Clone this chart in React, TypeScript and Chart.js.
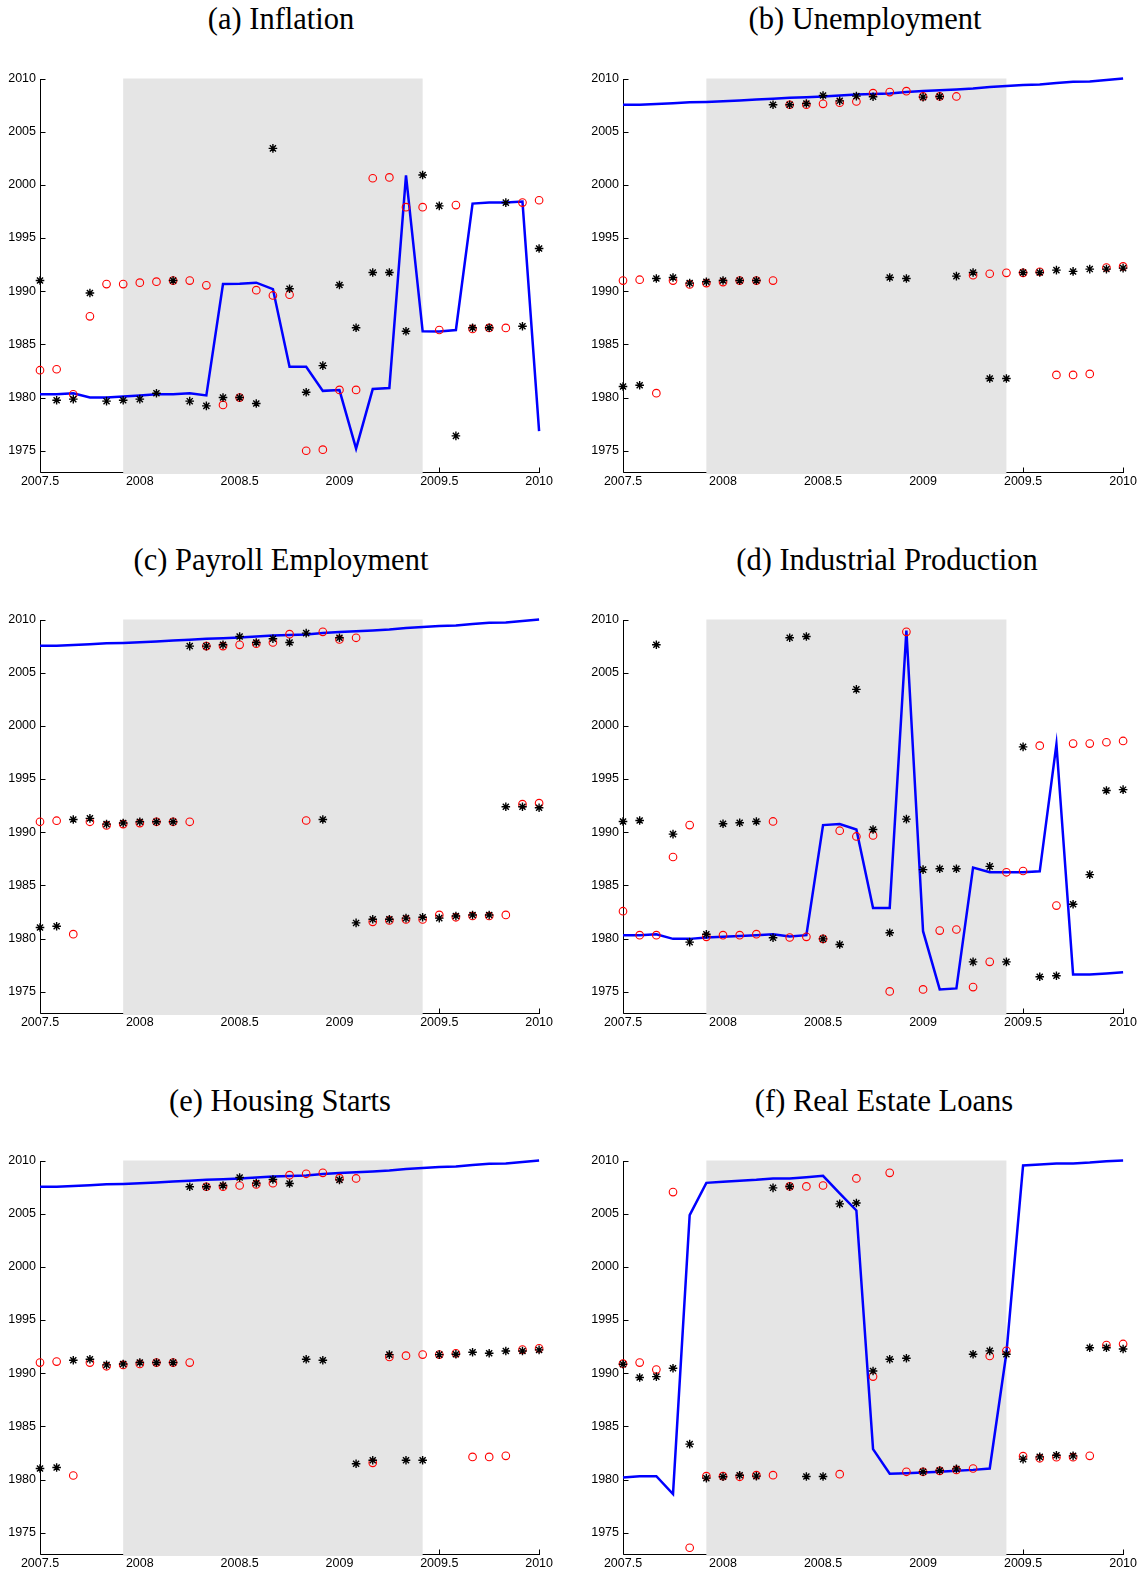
import React, { useEffect, useRef } from 'react';
import { Chart, registerables } from 'chart.js';

Chart.register(...registerables);

// ---------- data ----------
const months = [
  2007.5, 2007.5833, 2007.6667, 2007.75, 2007.8333, 2007.9167,
  2008.0, 2008.0833, 2008.1667, 2008.25, 2008.3333, 2008.4167,
  2008.5, 2008.5833, 2008.6667, 2008.75, 2008.8333, 2008.9167,
  2009.0, 2009.0833, 2009.1667, 2009.25, 2009.3333, 2009.4167,
  2009.5, 2009.5833, 2009.6667, 2009.75, 2009.8333, 2009.9167, 2010.0,
];
const xTicks = [2007.5, 2008, 2008.5, 2009, 2009.5, 2010];
const yTicks = [1975, 1980, 1985, 1990, 1995, 2000, 2005, 2010];
const recession = [2007.9167, 2009.4167];

const dateLine = [2007.53, 2007.53, 2007.6, 2007.68, 2007.76, 2007.8, 2007.86, 2007.94, 2008.02, 2008.1, 2008.18, 2008.24, 2008.3, 2008.4, 2008.5, 2008.55, 2008.6, 2008.72, 2008.82, 2008.9, 2008.97, 2009.06, 2009.2, 2009.3, 2009.38, 2009.44, 2009.58, 2009.69, 2009.72, 2009.86, 2010.0];

const infLine = [1980.32, 1980.32, 1980.4, 1980.0, 1980.0, 1980.1, 1980.2, 1980.3, 1980.3, 1980.4, 1980.2, 1990.67, 1990.7, 1990.8, 1990.2, 1982.9, 1982.9, 1980.63, 1980.7, 1975.19, 1980.8, 1980.9, 2000.9, 1986.23, 1986.2, 1986.35, 1998.24, 1998.33, 1998.33, 1998.43, 1976.84];
const infCircle = [1982.57, 1982.66, 1980.3, 1987.64, 1990.67, 1990.67, 1990.8, 1990.9, 1991.0, 1991.0, 1990.55, 1979.31, 1980.0, 1990.1, 1989.6, 1989.67, 1975.0, 1975.1, 1980.72, 1980.72, 2000.62, 2000.7, 1997.9, 1997.9, 1986.35, 1998.1, 1986.45, 1986.55, 1986.55, 1998.33, 1998.55];
const infStar = [1991.0, 1979.75, 1979.85, 1989.83, 1979.66, 1979.75, 1979.85, 1980.4, 1991.0, 1979.66, 1979.22, 1980.0, 1980.0, 1979.44, 2003.43, 1990.23, 1980.5, 1983.0, 1990.58, 1986.57, 1991.76, 1991.76, 1986.23, 2000.93, 1998.02, 1976.4, 1986.57, 1986.57, 1998.33, 1986.7, 1994.02];

const unCircle = [1991.0, 1991.08, 1980.41, 1991.0, 1990.64, 1990.76, 1990.86, 1991.0, 1991.0, 1991.0, 2007.53, 2007.53, 2007.62, 2007.72, 2007.84, 2008.62, 2008.72, 2008.81, 2008.31, 2008.31, 2008.31, 1991.51, 1991.64, 1991.73, 1991.73, 1991.83, 1982.13, 1982.13, 1982.22, 1992.23, 1992.33];
const unStar = [1981.04, 1981.16, 1991.2, 1991.29, 1990.76, 1990.89, 1991.0, 1991.0, 1991.0, 2007.53, 2007.53, 2007.65, 2008.4, 2007.9, 2008.34, 2008.28, 1991.29, 1991.2, 2008.25, 2008.31, 1991.42, 1991.76, 1981.79, 1981.79, 1991.76, 1991.76, 1991.98, 1991.86, 1992.08, 1992.08, 1992.17];

const payCircle = [1990.98, 1991.08, 1980.41, 1990.98, 1990.64, 1990.76, 1990.86, 1990.98, 1990.98, 1990.98, 2007.5, 2007.5, 2007.62, 2007.72, 2007.84, 2008.62, 1991.1, 2008.84, 2008.12, 2008.28, 1981.57, 1981.7, 1981.79, 1981.79, 1982.22, 1982.0, 1982.12, 1982.12, 1982.22, 1992.64, 1992.73];
const payStar = [1981.04, 1981.16, 1991.2, 1991.3, 1990.76, 1990.86, 1990.98, 1990.98, 1990.98, 2007.5, 2007.5, 2007.62, 2008.4, 2007.84, 2008.19, 2007.84, 2008.72, 1991.2, 2008.28, 1981.47, 1981.82, 1981.82, 1981.92, 1982.0, 1981.92, 1982.12, 1982.22, 1982.22, 1992.39, 1992.39, 1992.3];

const indLine = [1980.32, 1980.32, 1980.41, 1979.97, 1979.97, 1980.1, 1980.16, 1980.25, 1980.32, 1980.41, 1980.2, 1980.32, 1990.67, 1990.76, 1990.26, 1982.88, 1982.88, 2008.97, 1980.69, 1975.22, 1975.31, 1986.67, 1986.23, 1986.23, 1986.23, 1986.32, 1998.27, 1976.62, 1976.62, 1976.72, 1976.84];
const indCircle = [1982.57, 1980.32, 1980.32, 1987.67, 1990.67, 1980.16, 1980.32, 1980.32, 1980.41, 1991.01, 1980.1, 1980.16, 1979.97, 1990.14, 1989.6, 1989.7, 1975.03, 2008.84, 1975.22, 1980.75, 1980.85, 1975.44, 1977.81, 1986.23, 1986.35, 1998.14, 1983.1, 1998.33, 1998.33, 1998.46, 1998.58];
const indStar = [1991.01, 1991.1, 2007.62, 1989.82, 1979.66, 1980.41, 1990.8, 1990.89, 1991.01, 1980.07, 2008.28, 2008.4, 1979.97, 1979.44, 2003.43, 1990.26, 1980.54, 1991.23, 1986.48, 1986.57, 1986.57, 1977.81, 1986.79, 1977.81, 1998.02, 1976.41, 1976.5, 1983.22, 1986.01, 1993.92, 1994.0];

const houCircle = [1991.0, 1991.09, 1980.38, 1991.0, 1990.65, 1990.78, 1990.87, 1991.0, 1991.0, 1991.0, 2007.53, 2007.53, 2007.65, 2007.75, 2007.87, 2008.62, 2008.75, 2008.84, 2008.34, 2008.31, 1981.57, 1991.53, 1991.65, 1991.75, 1991.75, 1991.87, 1982.13, 1982.13, 1982.23, 1992.22, 1992.34];
const houStar = [1981.04, 1981.13, 1991.22, 1991.31, 1990.78, 1990.87, 1991.0, 1991.0, 1991.0, 2007.53, 2007.53, 2007.65, 2008.4, 2007.87, 2008.22, 2007.84, 1991.31, 1991.22, 2008.18, 1981.48, 1981.82, 1991.75, 1981.82, 1981.82, 1991.75, 1991.78, 1991.97, 1991.87, 1992.09, 1992.09, 1992.19];

const reLine = [1980.2, 1980.32, 1980.32, 1978.63, 2004.87, 2007.9, 2008.0, 2008.09, 2008.18, 2008.31, 2008.31, 2008.43, 2008.56, 2006.9, 2005.3, 1982.86, 1980.54, 1980.6, 1980.67, 1980.73, 1980.82, 1980.91, 1981.04, 1991.9, 2009.53, 2009.62, 2009.72, 2009.72, 2009.81, 2009.94, 2010.0];
const reCircle = [1990.9, 1991.0, 1990.34, 2007.03, 1973.59, 1980.32, 1980.32, 1980.26, 1980.41, 1980.41, 2007.56, 2007.56, 2007.65, 1980.51, 2008.31, 1989.68, 2008.84, 1980.73, 1980.73, 1980.82, 1980.91, 1981.04, 1991.62, 1992.1, 1982.2, 1982.0, 1982.1, 1982.1, 1982.23, 1992.65, 1992.75];
const reStar = [1990.84, 1989.59, 1989.68, 1990.46, 1983.33, 1980.13, 1980.26, 1980.41, 1980.32, 2007.43, 2007.56, 1980.29, 1980.29, 2005.92, 2006.0, 1990.21, 1991.31, 1991.4, 1980.73, 1980.85, 1981.0, 1991.78, 1992.1, 1991.78, 1981.92, 1982.13, 1982.29, 1982.23, 1992.4, 1992.4, 1992.28];

const titles = [
  '(a) Inflation', '(b) Unemployment', '(c) Payroll Employment',
  '(d) Industrial Production', '(e) Housing Starts', '(f) Real Estate Loans',
];

// ---------- layout ----------
const PAD_L = 40;
const PAD_T = 10;
const PAD_R = 15;
const PAD_B = 25;
const colPlotLeft = [40, 623];
const colPlotWidth = [500, 501];
const rowPlotTop = [77, 618, 1159];
const plotHeight = 395;
const titleCenters = [281, 865, 281, 887, 280, 884];
const titleTops = [2, 543, 1084];

const TICK_FONT = { family: "'Liberation Sans', Arial, Helvetica, sans-serif", size: 12.5 };

const framePlugin = {
  id: 'frame',
  beforeDatasetsDraw(chart: any) {
    const { ctx, chartArea: a, scales } = chart;
    const x = scales.x;
    const y = scales.y;
    ctx.save();
    ctx.strokeStyle = '#000';
    ctx.lineWidth = 1;
    ctx.beginPath();
    const lx = Math.round(a.left) + 0.5;
    const by = Math.round(a.bottom) + 0.5;
    ctx.moveTo(lx, Math.round(a.top));
    ctx.lineTo(lx, by);
    ctx.lineTo(Math.round(a.right) + 1, by);
    for (const v of yTicks) {
      const py = Math.round(y.getPixelForValue(v)) + 0.5;
      ctx.moveTo(lx, py);
      ctx.lineTo(lx + 5, py);
    }
    for (const v of xTicks) {
      const px = Math.round(x.getPixelForValue(v)) + 0.5;
      ctx.moveTo(px, by);
      ctx.lineTo(px, by - 5);
    }
    ctx.stroke();
    const x0 = x.getPixelForValue(recession[0]);
    const x1 = x.getPixelForValue(recession[1]);
    ctx.fillStyle = '#e5e5e5';
    ctx.fillRect(x0, a.top, x1 - x0, a.bottom - a.top + 2);
    ctx.restore();
  },
};

function toPts(vals: number[]) {
  return vals.map((v, i) => ({ x: months[i], y: v }));
}

type PanelProps = {
  col: number;
  row: number;
  idx: number;
  line: number[];
  circles: number[];
  stars: number[];
};

function Panel({ col, row, idx, line, circles, stars }: PanelProps) {
  const ref = useRef<HTMLCanvasElement | null>(null);
  const w = PAD_L + colPlotWidth[col] + PAD_R;
  const h = PAD_T + plotHeight + PAD_B;
  const left = colPlotLeft[col] - PAD_L;
  const top = rowPlotTop[row] - PAD_T;

  useEffect(() => {
    if (!ref.current) return;
    const chart = new Chart(ref.current, {
      type: 'scatter',
      data: {
        datasets: [
          {
            label: 'stars',
            data: toPts(stars),
            showLine: false,
            pointStyle: 'star',
            pointRadius: 4.3,
            borderColor: '#000000',
            backgroundColor: '#000000',
            borderWidth: 1.4,
            clip: false,
            order: 0,
          } as any,
          {
            label: 'circles',
            data: toPts(circles),
            showLine: false,
            pointStyle: 'circle',
            pointRadius: 3.8,
            borderColor: '#ff0000',
            backgroundColor: 'rgba(0,0,0,0)',
            borderWidth: 1.1,
            clip: false,
            order: 1,
          } as any,
          {
            label: 'line',
            data: toPts(line),
            showLine: true,
            pointRadius: 0,
            borderColor: '#0000ff',
            backgroundColor: '#0000ff',
            borderWidth: 2.5,
            tension: 0,
            clip: false,
            order: 2,
          } as any,
        ],
      },
      options: {
        animation: false,
        responsive: false,
        devicePixelRatio: 1,
        events: [],
        layout: { padding: { left: 0, top: PAD_T, right: PAD_R, bottom: 0 } },
        plugins: {
          legend: { display: false },
          tooltip: { enabled: false },
          title: { display: false },
        },
        scales: {
          x: {
            type: 'linear',
            min: 2007.5,
            max: 2010,
            grid: { display: false, drawTicks: false },
            border: { display: false },
            afterBuildTicks: (s: any) => {
              s.ticks = xTicks.map((v) => ({ value: v }));
            },
            afterFit: (s: any) => {
              s.height = PAD_B;
            },
            ticks: {
              autoSkip: false,
              maxRotation: 0,
              minRotation: 0,
              padding: 2,
              color: '#000',
              font: TICK_FONT,
              callback: (v: any) => String(v),
            },
          },
          y: {
            type: 'linear',
            min: 1973,
            max: 2010,
            grid: { display: false, drawTicks: false },
            border: { display: false },
            afterBuildTicks: (s: any) => {
              s.ticks = yTicks.map((v) => ({ value: v }));
            },
            afterFit: (s: any) => {
              s.width = PAD_L;
            },
            ticks: {
              autoSkip: false,
              padding: 4,
              color: '#000',
              font: TICK_FONT,
              callback: (v: any) => String(v),
            },
          },
        },
      } as any,
      plugins: [framePlugin],
    });
    return () => chart.destroy();
  }, []);

  return (
    <>
      <div
        style={{
          position: 'absolute',
          left: titleCenters[idx] - 300,
          top: titleTops[row],
          width: 600,
          textAlign: 'center',
          fontFamily: "'Liberation Serif', 'Times New Roman', serif",
          fontSize: 30.5,
          lineHeight: '34px',
          color: '#000',
          whiteSpace: 'nowrap',
        }}
      >
        {titles[idx]}
      </div>
      <canvas
        ref={ref}
        width={w}
        height={h}
        style={{ position: 'absolute', left, top, width: w, height: h }}
      />
    </>
  );
}

export default function App() {
  return (
    <div
      style={{
        position: 'absolute',
        left: 0,
        top: 0,
        width: 1146,
        height: 1572,
        background: '#fff',
        overflow: 'hidden',
      }}
    >
      <Panel col={0} row={0} idx={0} line={infLine} circles={infCircle} stars={infStar} />
      <Panel col={1} row={0} idx={1} line={dateLine} circles={unCircle} stars={unStar} />
      <Panel col={0} row={1} idx={2} line={dateLine} circles={payCircle} stars={payStar} />
      <Panel col={1} row={1} idx={3} line={indLine} circles={indCircle} stars={indStar} />
      <Panel col={0} row={2} idx={4} line={dateLine} circles={houCircle} stars={houStar} />
      <Panel col={1} row={2} idx={5} line={reLine} circles={reCircle} stars={reStar} />
    </div>
  );
}
